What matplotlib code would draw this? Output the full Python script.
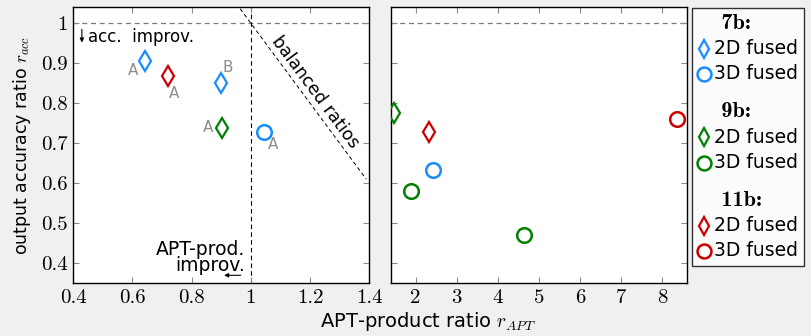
import matplotlib
matplotlib.use('agg')
import matplotlib.pyplot as plt
from matplotlib.lines import Line2D

plt.rcParams['font.family'] = ['DejaVu Sans']
plt.rcParams['mathtext.fontset'] = 'cm'

BLUE = '#1a8cff'
GREEN = '#008000'
RED = '#cc0000'
GRAY = '#8c8c8c'

# left panel (r_APT < 1.4)
left_x = [0.643, 0.721, 0.899, 0.901, 1.044]
left_y = [0.905, 0.869, 0.851, 0.739, 0.729]
left_marker = ['d', 'd', 'd', 'd', 'o']
left_color = [BLUE, RED, BLUE, GREEN, BLUE]
left_label = ['A', 'A', 'B', 'A', 'A']
left_label_off = [(-9, -6.5), (4, -12.5), (5, 11), (-9.6, 0), (6.7, -9.4)]

# right panel (r_APT > 1.4)
right_x = [1.466, 2.317, 2.43, 1.894, 4.636, 8.366]
right_y = [0.777, 0.728, 0.634, 0.581, 0.470, 0.762]
right_marker = ['d', 'd', 'o', 'o', 'o', 'o']
right_color = [GREEN, RED, BLUE, GREEN, GREEN, RED]

left_ticks = [0.4, 0.6, 0.8, 1.0, 1.2, 1.4]
right_ticks = [2, 3, 4, 5, 6, 7, 8]
y_ticks = [0.4, 0.5, 0.6, 0.7, 0.8, 0.9, 1.0]

groups = ['7b:', '9b:', '11b:']
group_colors = [BLUE, GREEN, RED]


def draw_marker(ax, x, y, m, c):
    if m == 'd':
        ax.plot(x, y, marker='d', ms=10, mfc='none', mec=c, mew=1.6, ls='none', zorder=4)
    else:
        ax.plot(x, y, marker='o', ms=10.5, mfc='none', mec=c, mew=1.8, ls='none', zorder=4)


def style_axes(ax):
    for s in ax.spines.values():
        s.set_linewidth(1.0)
        s.set_color('black')
    ax.tick_params(direction='in', top=True, right=True, length=4, width=0.8,
                   color=GRAY, labelsize=15, pad=4)
    ax.set_ylim(0.35, 1.04)
    ax.set_yticks(y_ticks)
    ax.axhline(1.0, color='#7a7a7a', ls=(0, (4, 3)), lw=0.9, zorder=1)


def serif_ticks(ax):
    for t in ax.get_xticklabels() + ax.get_yticklabels():
        t.set_fontfamily('cmr10')


fig = plt.figure(figsize=(8.12, 3.36), dpi=100)
fig.patch.set_facecolor('#f0f0f0')

ax1 = fig.add_axes([73.3 / 812, 1 - 283.3 / 336, 296 / 812, 276 / 336])
ax2 = fig.add_axes([391 / 812, 1 - 283.3 / 336, 296 / 812, 276 / 336])

style_axes(ax1)
style_axes(ax2)

ax1.set_xlim(0.4, 1.4)
ax1.set_xticks(left_ticks)
ax1.set_xticklabels(['%g' % v for v in left_ticks])
ax1.set_yticklabels(['%g' % v for v in y_ticks])

ax2.set_xlim(1.4, 8.6)
ax2.set_xticks(right_ticks)
ax2.set_xticklabels(['%g' % v for v in right_ticks])
ax2.set_yticklabels([])

serif_ticks(ax1)
serif_ticks(ax2)

ax1.set_ylabel('output accuracy ratio $r_{acc}$', fontsize=12.5, labelpad=6)
fig.text(428 / 812, 0.008, 'APT-product ratio $r_{APT}$', ha='center', va='bottom', fontsize=14)

# reference lines
ax1.axvline(1.0, color='black', ls=(0, (4, 3)), lw=0.8, zorder=1)
ax1.plot([0.95, 1.39], [2 - 0.95, 2 - 1.39], color='black', ls=(0, (4, 3)), lw=0.7, zorder=1)
ax1.text(1.217, 0.829, 'balanced ratios', rotation=-53.4, ha='center', va='center', fontsize=12.5)

# annotations
ax1.annotate('', xy=(0.429, 0.945), xytext=(0.429, 0.992),
             arrowprops=dict(arrowstyle='-|>', color='black', lw=0.8, mutation_scale=6))
ax1.text(0.45, 0.966, 'acc.  improv.', ha='left', va='center', fontsize=12)
ax1.text(0.98, 0.415, 'APT-prod.\nimprov.', ha='right', va='center', fontsize=13.5,
         multialignment='right', linespacing=0.8)
ax1.annotate('', xy=(0.9, 0.37), xytext=(0.975, 0.37),
             arrowprops=dict(arrowstyle='-|>', color='black', lw=0.8, mutation_scale=6))

for x, y, m, c, lab, off in zip(left_x, left_y, left_marker, left_color, left_label, left_label_off):
    draw_marker(ax1, x, y, m, c)
    ax1.annotate(lab, (x, y), xytext=off, textcoords='offset points', ha='center',
                 va='center', color=GRAY, fontsize=11)

for x, y, m, c in zip(right_x, right_y, right_marker, right_color):
    draw_marker(ax2, x, y, m, c)

# legend: bold group header followed by its two entries
handles = []
labels = []
header_idx = []
for i, (g, c) in enumerate(zip(groups, group_colors)):
    header_idx.append(len(labels))
    handles.append(Line2D([], [], ls='none'))
    labels.append((' ' if i == 0 else '\n ') + g)
    handles.append(Line2D([], [], marker='d', ms=9, mfc='none', mec=c, mew=1.6, ls='none'))
    labels.append('2D fused')
    handles.append(Line2D([], [], marker='o', ms=10, mfc='none', mec=c, mew=1.8, ls='none'))
    labels.append('3D fused')

leg = fig.legend(handles, labels, loc='upper left', bbox_to_anchor=(692 / 812, 1 - 8.3 / 336),
                 frameon=True, fancybox=False, edgecolor='black', fontsize=13.5,
                 handlelength=0.7, handleheight=0.23, handletextpad=0.2, borderpad=0.3,
                 labelspacing=0.333, borderaxespad=0)
leg.get_frame().set_linewidth(1.0)
texts = leg.get_texts()
for i in header_idx:
    texts[i].set_fontfamily('cmb10')
    texts[i].set_fontsize(16)
    texts[i].set_linespacing(0.58)

fig.savefig('out.png', dpi=100, facecolor=fig.get_facecolor())
